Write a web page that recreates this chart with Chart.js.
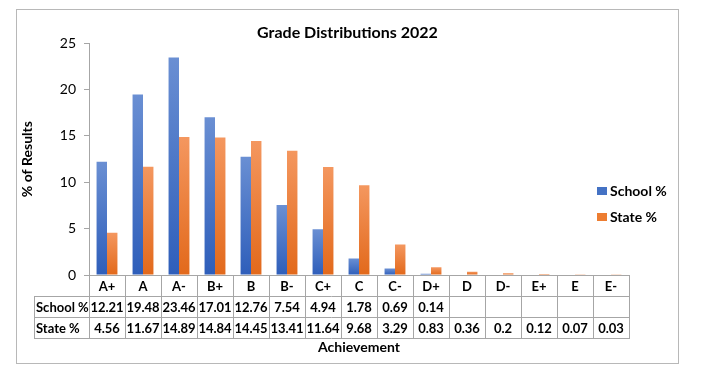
<!DOCTYPE html>
<html>
<head>
<meta charset="utf-8">
<title>Grade Distributions 2022</title>
<script src="https://cdn.jsdelivr.net/npm/chart.js@4"></script>
<style>
    body { margin: 0; background: #fff; }
    canvas { display: block; }
</style>
</head>
<body>
<canvas id="gradeChart" width="717" height="370"></canvas>
<script>
// Data
const grades = ['A+', 'A', 'A-', 'B+', 'B', 'B-', 'C+', 'C', 'C-', 'D+', 'D', 'D-', 'E+', 'E', 'E-'];
const schoolPct = [12.21, 19.48, 23.46, 17.01, 12.76, 7.54, 4.94, 1.78, 0.69, 0.14, null, null, null, null, null];
const statePct = [4.56, 11.67, 14.89, 14.84, 14.45, 13.41, 11.64, 9.68, 3.29, 0.83, 0.36, 0.2, 0.12, 0.07, 0.03];
const yTicks = [0, 5, 10, 15, 20, 25];

const FONT = 'Lato, "Open Sans", sans-serif';
const GRID = '#A6A6A6';

Chart.defaults.font.family = FONT;
Chart.defaults.color = '#000';

// Excel-like vertical gradient, lighter at the top of each bar
function barFill(topColor, bottomColor) {
    return (ctx) => {
        const chart = ctx.chart;
        if (ctx.type !== 'data' || !chart.chartArea || !chart.scales.y) return bottomColor;
        const v = ctx.parsed ? ctx.parsed.y : ctx.raw;
        if (v === null || v === undefined) return bottomColor;
        const y = chart.scales.y;
        const g = chart.ctx.createLinearGradient(0, y.getPixelForValue(v), 0, y.getPixelForValue(0));
        g.addColorStop(0, topColor);
        g.addColorStop(1, bottomColor);
        return g;
    };
}

// Outer frame of the chart
const framePlugin = {
    id: 'frame',
    beforeDraw(chart) {
        const c = chart.ctx;
        c.save();
        c.strokeStyle = '#B8B8B8';
        c.lineWidth = 1;
        c.strokeRect(16.5, 9.5, 662, 354);
        c.restore();
    }
};

// Data table under the x axis, aligned to the category scale
const tablePlugin = {
    id: 'dataTable',
    afterDraw(chart) {
        const c = chart.ctx;
        const x = chart.scales.x;
        const area = chart.chartArea;
        const n = grades.length;
        const cw = (area.right - area.left) / n;
        const rowH = 21;
        const top = Math.round(area.bottom);
        const labelLeft = 34;
        const rows = [
            { label: '', values: grades },
            { label: 'School %', values: schoolPct },
            { label: 'State %', values: statePct }
        ];

        c.save();
        c.strokeStyle = GRID;
        c.lineWidth = 1;
        c.beginPath();
        // horizontal lines
        c.moveTo(area.left, top + 0.5);
        c.lineTo(area.right, top + 0.5);
        for (let r = 1; r <= 3; r++) {
            const yy = top + r * rowH + 0.5;
            c.moveTo(labelLeft, yy);
            c.lineTo(area.right, yy);
        }
        // vertical lines
        for (let i = 0; i <= n; i++) {
            const xx = Math.round(area.left + i * cw) + 0.5;
            c.moveTo(xx, top);
            c.lineTo(xx, top + 3 * rowH + 1);
        }
        c.moveTo(labelLeft + 0.5, top + rowH);
        c.lineTo(labelLeft + 0.5, top + 3 * rowH + 1);
        c.stroke();

        c.fillStyle = '#000';
        c.font = 'bold 13px ' + FONT;
        c.textBaseline = 'middle';
        rows.forEach((row, r) => {
            const cy = top + r * rowH + rowH / 2 + 1;
            if (row.label) {
                c.textAlign = 'left';
                c.fillText(row.label, labelLeft + 2, cy);
            }
            c.textAlign = 'center';
            row.values.forEach((v, i) => {
                if (v === null || v === undefined) return;
                c.fillText(String(v), x.getPixelForValue(i), cy);
            });
        });
        c.restore();
    }
};

// Legend placed on the right like the original
const legendPlugin = {
    id: 'sideLegend',
    afterDraw(chart) {
        const c = chart.ctx;
        const items = [
            { text: chart.data.datasets[0].label, color: '#4472C4', y: 191 },
            { text: chart.data.datasets[1].label, color: '#ED7D31', y: 217 }
        ];
        c.save();
        c.font = 'bold 14px ' + FONT;
        c.textAlign = 'left';
        c.textBaseline = 'middle';
        items.forEach(it => {
            c.fillStyle = it.color;
            c.fillRect(597, it.y - 4, 10, 8);
            c.fillStyle = '#000';
            c.fillText(it.text, 610, it.y);
        });
        c.restore();
    }
};

const ctx = document.getElementById('gradeChart');
new Chart(ctx, {
    type: 'bar',
    data: {
        labels: grades,
        datasets: [
            {
                label: 'School %',
                data: schoolPct,
                backgroundColor: barFill('#6A8FD3', '#2E5EBA'),
                barPercentage: 1,
                categoryPercentage: 0.58
            },
            {
                label: 'State %',
                data: statePct,
                backgroundColor: barFill('#F4975F', '#E2691B'),
                barPercentage: 1,
                categoryPercentage: 0.58
            }
        ]
    },
    options: {
        responsive: false,
        animation: false,
        devicePixelRatio: 1,
        layout: { padding: { left: 16, right: 38, top: 23, bottom: 10 } },
        plugins: {
            legend: { display: false },
            tooltip: { enabled: false },
            title: {
                display: true,
                text: 'Grade Distributions 2022',
                color: '#000',
                font: { size: 16, weight: 'bold' },
                padding: { top: 0, bottom: 1 }
            }
        },
        scales: {
            x: {
                grid: { display: false },
                border: { display: true, color: GRID },
                ticks: { display: false },
                title: {
                    display: true,
                    text: 'Achievement',
                    color: '#000',
                    font: { size: 14, weight: 'bold' },
                    padding: { top: 0, bottom: 4 }
                },
                afterFit: (s) => { s.height = 85; }
            },
            y: {
                min: 0,
                max: 25,
                afterBuildTicks: (s) => { s.ticks = yTicks.map(v => ({ value: v })); },
                ticks: { color: '#000', font: { size: 14 }, padding: 8 },
                grid: { drawOnChartArea: false, drawTicks: true, tickLength: 5, color: GRID },
                border: { color: GRID },
                title: {
                    display: true,
                    text: '% of Results',
                    color: '#000',
                    font: { size: 14, weight: 'bold' },
                    padding: { top: 3, bottom: 0 }
                },
                afterFit: (s) => { s.width = 73; }
            },
            yRight: {
                type: 'linear',
                position: 'right',
                grid: { display: false },
                border: { display: false },
                ticks: { display: false },
                afterFit: (s) => { s.width = 50; }
            }
        }
    },
    plugins: [framePlugin, tablePlugin, legendPlugin]
});
</script>
</body>
</html>
